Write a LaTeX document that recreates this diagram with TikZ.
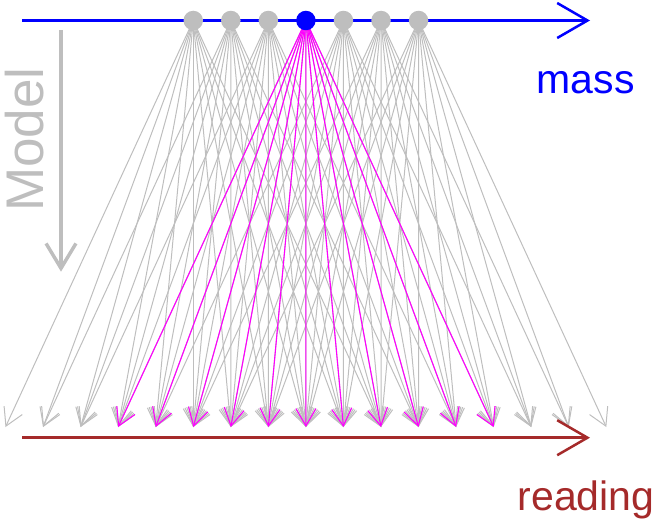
\documentclass[tikz,border=0pt]{standalone}
\usepackage{fontspec}
\setmainfont{Liberation Sans}
\usetikzlibrary{arrows.meta,backgrounds}
\definecolor{rgray}{HTML}{BEBEBE}
\definecolor{rbrown}{HTML}{A52A2A}
\definecolor{rmagenta}{HTML}{FF00FF}
\begin{document}
\begin{tikzpicture}[x=1pt,y=-1pt,
  conn/.style={line width=1pt, -{Straight Barb[angle=60:20pt]}},
  axisline/.style={line width=2.5pt, -{Straight Barb[angle=60:35pt]}},
  dotnode/.style={circle, fill=rgray, inner sep=0pt, minimum size=19.5pt},
  lbl/.style={inner sep=0pt, anchor=base west}]
\path[use as bounding box] (0,0) rectangle (656,519);
\foreach \k in {0,...,16} \coordinate (t\k) at ({5.5+37.55*\k},427);
\foreach \i in {0,...,6} \coordinate (d\i) at ({193.25+37.55*\i},20.5);
\coordinate (ma) at (22,20.5);   \coordinate (mb) at (590,20.5);
\coordinate (ra) at (22,437.7);  \coordinate (rb) at (590,437.7);
\coordinate (oa) at (61,30);     \coordinate (ob) at (61,271.7);
% dots
\foreach \i in {0,1,2,4,5,6} \node[dotnode] (n\i) at (d\i) {};
\node[dotnode, fill=blue] (n3) at (d3) {};
\begin{scope}[on background layer]
  \foreach \i in {0,1,2,3,4,5,6} {
    \foreach \j in {0,...,10} {
      \pgfmathtruncatemacro\k{\i+\j}
      \draw[conn, rgray] (d\i) -- (t\k);
    }
  }
  \foreach \j in {0,...,10} {
    \pgfmathtruncatemacro\k{3+\j}
    \draw[conn, rmagenta, line width=1.1pt] (d3) -- (t\k);
  }
  \draw[axisline, blue] (ma) -- (mb);
  \draw[axisline, rbrown] (ra) -- (rb);
  \draw[line width=3.5pt, rgray, -{Straight Barb[angle=62:29pt]}] (oa) -- (ob);
\end{scope}
\node[lbl, text=blue, font=\fontsize{41}{49}\selectfont] (mass) at (536.5,93) {mass};
\node[lbl, text=rbrown, font=\fontsize{41}{49}\selectfont] (reading) at (517.5,510) {reading};
\node[lbl, text=rgray, rotate=90, font=\fontsize{53}{63}\selectfont] (model) at (43,212) {Model};
\end{tikzpicture}
\end{document}
